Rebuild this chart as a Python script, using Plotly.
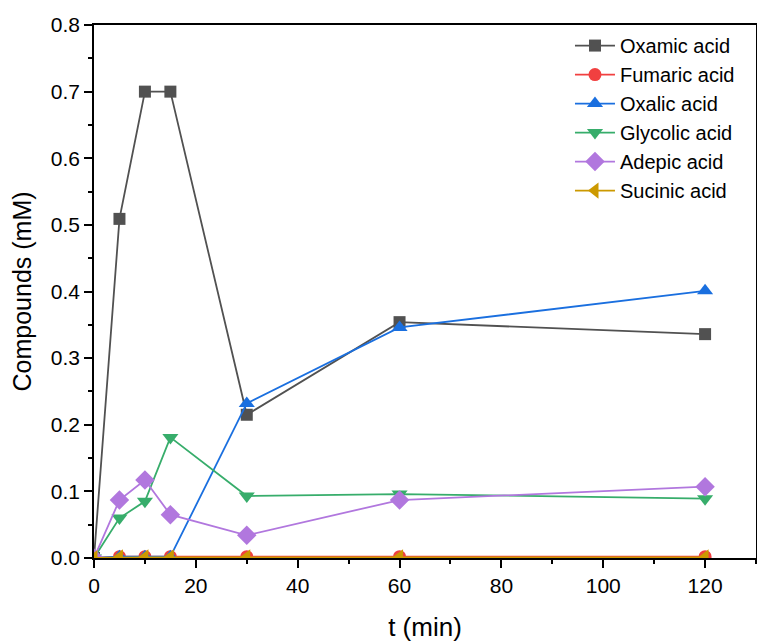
import plotly.graph_objects as go

t = [0, 5, 10, 15, 30, 60, 120]
oxamic = [0.0, 0.509, 0.700, 0.700, 0.215, 0.354, 0.336]
fumaric = [0.0, 0.002, 0.002, 0.002, 0.002, 0.002, 0.002]
oxalic = [0.0, 0.002, 0.002, 0.002, 0.232, 0.346, 0.401]
glycolic = [0.0, 0.060, 0.085, 0.181, 0.093, 0.096, 0.089]
adepic = [0.0, 0.087, 0.117, 0.065, 0.034, 0.087, 0.107]
sucinic = [0.0, 0.001, 0.001, 0.001, 0.001, 0.001, 0.001]

series = [
    ("Oxamic acid", oxamic, "#515151", "square", 12),
    ("Fumaric acid", fumaric, "#F14040", "circle", 13),
    ("Oxalic acid", oxalic, "#1A6FDF", "triangle-up", 14),
    ("Glycolic acid", glycolic, "#37AD6B", "triangle-down", 14),
    ("Adepic acid", adepic, "#B177DE", "diamond", 15),
    ("Sucinic acid", sucinic, "#CC9900", "triangle-left", 14),
]

fig = go.Figure()
for name, vals, color, sym, size in series:
    fig.add_trace(go.Scatter(
        x=t, y=vals, name=name, mode="lines+markers",
        line=dict(color=color, width=1.8),
        marker=dict(symbol=sym, size=size, color=color),
        cliponaxis=True,
    ))

axis_common = dict(
    showline=True, linecolor="black", linewidth=1.5, mirror=True,
    ticks="outside", ticklen=8, tickwidth=1.5, tickcolor="black",
    showgrid=False, zeroline=False, automargin=False,
    tickfont=dict(family="Liberation Sans, Arial", size=21, color="black"),
)

fig.update_layout(
    width=757, height=644,
    margin=dict(l=94, r=1, t=25, b=86),
    plot_bgcolor="white", paper_bgcolor="white",
    font=dict(family="Liberation Sans, Arial", color="black"),
    xaxis=dict(range=[0, 130], dtick=20,
               minor=dict(dtick=10, ticks="outside", ticklen=4, tickwidth=1.5, tickcolor="black"),
               title=dict(text="t (min)", font=dict(size=26), standoff=22),
               **axis_common),
    yaxis=dict(range=[0, 0.8], dtick=0.1, tickformat=".1f",
               minor=dict(dtick=0.05, ticks="outside", ticklen=4, tickwidth=1.5, tickcolor="black"),
               title=dict(text="Compounds (mM)", font=dict(size=25), standoff=12),
               **axis_common),
    legend=dict(x=0.719, y=0.998, xanchor="left", yanchor="top",
                font=dict(size=20), bgcolor="rgba(0,0,0,0)",
                tracegroupgap=0, itemwidth=40),
    showlegend=True,
)

fig.write_html("out.html",
               config={"displayModeBar": False},
               post_script="document.body.style.margin='0';document.body.style.overflow='hidden';")
